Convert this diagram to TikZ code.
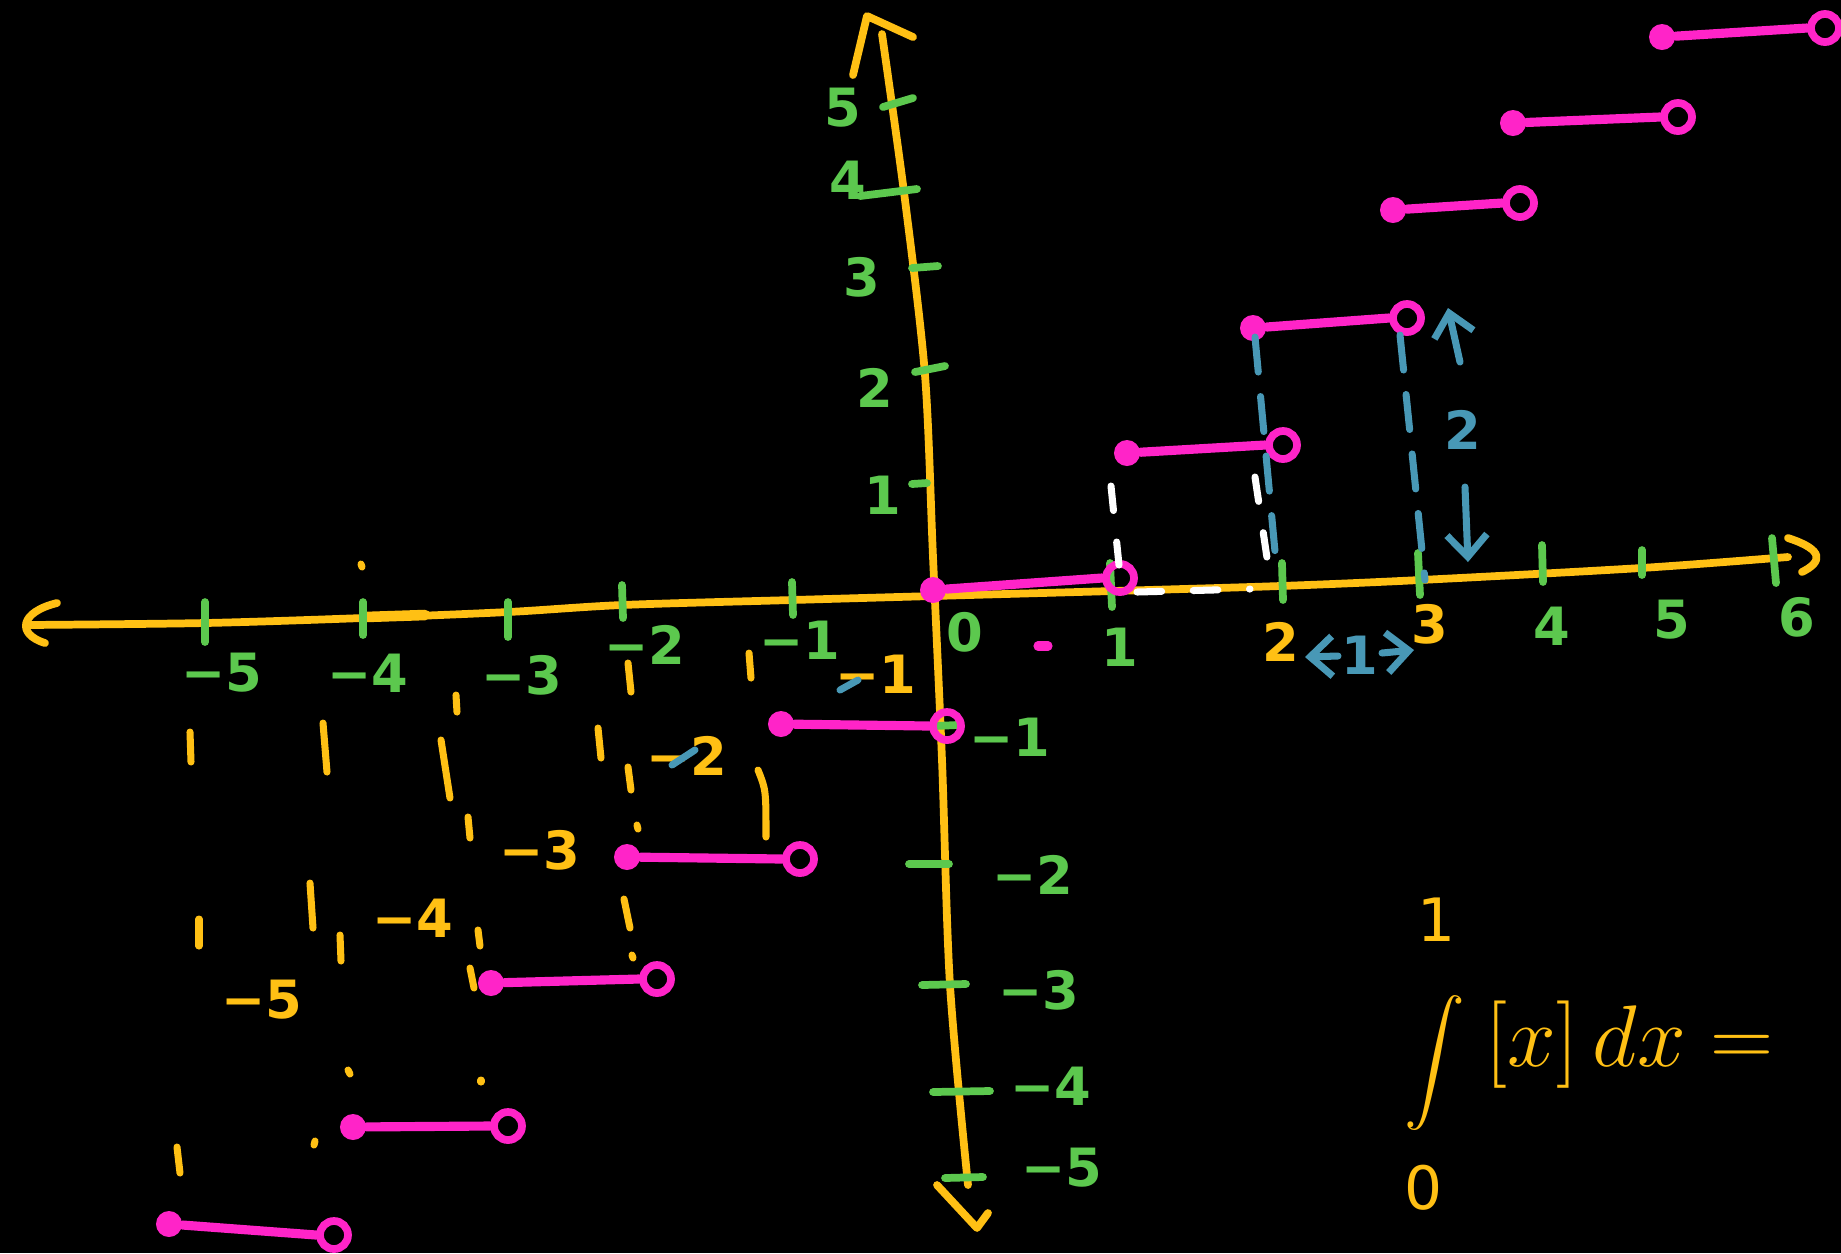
\documentclass[tikz,border=0pt]{standalone}
\usepackage{amsmath}
\usepackage{fontspec}
\usepackage{tikz}
\newfontfamily\handfont{DejaVu Sans}
\usetikzlibrary{arrows.meta,positioning}
\definecolor{hwyellow}{RGB}{255,192,20}
\definecolor{hwgreen}{RGB}{92,200,78}
\definecolor{hwpink}{RGB}{255,36,200}
\definecolor{hwblue}{RGB}{72,152,182}
\tikzset{
  hwaxis/.style={draw=hwyellow, line width=2.2pt, line cap=round, line join=round},
  hwtick/.style={draw=hwgreen, line width=2.2pt, line cap=round},
  hwnum/.style={text=hwgreen, font=\handfont\bfseries\fontsize{15}{15}\selectfont, inner sep=0pt},
  hwynum/.style={hwnum, text=hwyellow},
  hwbnum/.style={hwnum, text=hwblue},
  hwmath/.style={text=hwyellow, inner sep=0pt},
  hwstep/.style={draw=hwpink, line width=2.6pt, line cap=round},
  hwshut/.style={circle, fill=hwpink, minimum size=.26cm, inner sep=0pt},
  hwopen/.style={circle, draw=hwpink, line width=2.2pt, minimum size=.28cm, inner sep=0pt},
  hwmark/.style={draw=hwyellow, line width=2pt, line cap=round},
  hwwhite/.style={draw=white, line width=2pt, line cap=round, dash pattern=on 7pt off 9pt},
  hwbluedash/.style={draw=hwblue, line width=2pt, line cap=round, dash pattern=on 10pt off 7pt},
  hwarr/.style={draw=hwblue, line width=2pt, line cap=round, -{Straight Barb[length=2.2mm, width=4mm]}}
}

\begin{document}
\begin{tikzpicture}[x=.01cm, y=-.01cm]
  \fill[black] (0,0) rectangle (1841,1253);
  \useasboundingbox (0,0) rectangle (1841,1253);

  % axes
  \draw[hwaxis] plot[smooth] coordinates {(27,625) (205,623) (363,618) (508,612) (622,605) (792,600) (933,596) (1113,591) (1280,586) (1420,580) (1641,568) (1788,557)};
  \draw[hwaxis, line width=3pt] (365,617) -- (425,615);
  \draw[hwaxis] (57,603) .. controls (20,612) and (16,634) .. (45,643);
  \draw[hwaxis] (1788,538) .. controls (1825,550) and (1822,562) .. (1802,572);
  \draw[hwaxis] plot[smooth] coordinates {(882,34) (905,200) (925,375) (933,557) (942,760) (950,985) (968,1185)};
  \draw[hwaxis] (853,75) -- (867,16) -- (913,37);
  \draw[hwaxis] (937,1185) -- (977,1228) -- (988,1213);

  % ticks
  \draw[hwtick] (205,602) -- (205,642);
  \draw[hwtick] (363,602) -- (363,635);
  \draw[hwtick] (508,602) -- (508,637);
  \draw[hwtick] (622,585) -- (623,618);
  \draw[hwtick] (792,582) -- (793,615);
  \draw[hwtick] (1110,563) -- (1112,607);
  \draw[hwtick] (1282,563) -- (1283,600);
  \draw[hwtick] (1418,553) -- (1420,595);
  \draw[hwtick] (1542,545) -- (1543,582);
  \draw[hwtick] (1642,550) -- (1642,575);
  \draw[hwtick] (1772,538) -- (1776,583);
  \draw[hwtick] (883,107) -- (913,98);
  \draw[hwtick] (860,196) -- (917,189);
  \draw[hwtick] (912,268) -- (938,266);
  \draw[hwtick] (915,372) -- (945,366);
  \draw[hwtick] (912,484) -- (927,483);
  \draw[hwtick] (935,726) -- (957,725);
  \draw[hwtick] (909,864) -- (949,864);
  \draw[hwtick] (922,985) -- (966,984);
  \draw[hwtick] (933,1092) -- (990,1091);
  \draw[hwtick] (945,1178) -- (983,1177);

  % axis numbers
  \node[hwnum] (xm5) at (222,673) {−5};
  \node[hwnum] (xm4) at (368,673) {−4};
  \node[hwnum] (xm3) at (522,675) {−3};
  \node[hwnum] (xm2) at (645,645) {−2};
  \node[hwnum] (xm1) at (800,640) {−1};
  \node[hwnum] (x0) at (965,632) {0};
  \node[hwnum] (x1) at (1120,647) {1};
  \node[hwynum] (x2) at (1281,642) {2};
  \node[hwynum] (x3) at (1430,624) {3};
  \node[hwnum] (x4) at (1552,626) {4};
  \node[hwnum] (x5) at (1672,620) {5};
  \node[hwnum] (x6) at (1797,617) {6};
  \node[hwnum] (y5) at (843,108) {5};
  \node[hwnum] (y4) at (848,180) {4};
  \node[hwnum] (y3) at (862,277) {3};
  \node[hwnum] (y2) at (875,388) {2};
  \node[hwnum] (y1) at (883,495) {1};
  \node[hwnum] (ym1) at (1010,737) {−1};
  \node[hwnum] (ym2) at (1033,875) {−2};
  \node[hwnum] (ym3) at (1039,990) {−3};
  \node[hwnum] (ym4) at (1051,1086) {−4};
  \node[hwnum] (ym5) at (1062,1168) {−5};

  % floor steps
  \node[hwshut] (s0) at (933,590) {};
  \node[hwopen] (e0) at (1120,578) {};
  \draw[hwstep] (s0) -- (e0.west);
  \node[hwshut] (s1) at (1127,453) {};
  \node[hwopen] (e1) at (1283,445) {};
  \draw[hwstep] (s1) -- (e1.west);
  \node[hwshut] (s2) at (1253,328) {};
  \node[hwopen] (e2) at (1407,318) {};
  \draw[hwstep] (s2) -- (e2.west);
  \node[hwshut] (s3) at (1393,210) {};
  \node[hwopen] (e3) at (1520,203) {};
  \draw[hwstep] (s3) -- (e3.west);
  \node[hwshut] (s4) at (1513,123) {};
  \node[hwopen] (e4) at (1678,117) {};
  \draw[hwstep] (s4) -- (e4.west);
  \node[hwshut] (s5) at (1662,37) {};
  \node[hwopen] (e5) at (1825,28) {};
  \draw[hwstep] (s5) -- (e5.west);
  \node[hwshut] (sm1) at (781,724) {};
  \node[hwopen] (em1) at (947,726) {};
  \draw[hwstep] (sm1) -- (em1.west);
  \node[hwshut] (sm2) at (627,857) {};
  \node[hwopen] (em2) at (800,859) {};
  \draw[hwstep] (sm2) -- (em2.west);
  \node[hwshut] (sm3) at (491,983) {};
  \node[hwopen] (em3) at (657,979) {};
  \draw[hwstep] (sm3) -- (em3.west);
  \node[hwshut] (sm4) at (353,1127) {};
  \node[hwopen] (em4) at (508,1126) {};
  \draw[hwstep] (sm4) -- (em4.west);
  \node[hwshut] (sm5) at (169,1224) {};
  \node[hwopen] (em5) at (334,1235) {};
  \draw[hwstep] (sm5) -- (em5.west);
  \draw[hwstep] (1038,646) -- (1048,646);

  % guides to the first steps
  \draw[hwwhite] (1111,486) -- (1119,565);
  \draw[hwwhite] (1137,592) -- (1250,589);
  \draw[hwwhite] (1255,477) -- (1270,578);
  \draw[hwbluedash] (1255,337) -- (1277,573);
  \draw[hwbluedash] (1400,335) -- (1425,580);

  % width and height of one step
  \node[hwbnum] (rise) at (1463,430) {2};
  \coordinate (risetail) at (1460,362);
  \coordinate (risehead) at (1448,308);
  \coordinate (falltail) at (1465,487);
  \coordinate (fallhead) at (1468,562);
  \draw[hwarr] (risetail) -- (risehead);
  \draw[hwarr] (falltail) -- (fallhead);
  \node[hwbnum] (run) at (1360,655) {1};
  \coordinate (runleft) at (1305,657);
  \coordinate (runright) at (1414,650);
  \draw[hwarr] (1338,656) -- (runleft);
  \draw[hwarr] (1382,653) -- (runright);

  % yellow guide marks below the x axis
  \node[hwynum] (ym1y) at (876,674) {−1};
  \node[hwynum] (ym2y) at (687,756) {−2};
  \node[hwynum] (ym3y) at (540,850) {−3};
  \node[hwynum] (ym4y) at (413,918) {−4};
  \node[hwynum] (ym5y) at (262,1000) {−5};
  \draw[hwbluedash, solid] (840,690) -- (858,680);
  \draw[hwbluedash, solid] (672,765) -- (695,750);
  \draw[hwmark] (361,564) -- (362,567);
  \draw[hwmark] (749,653) -- (751,678);
  \draw[hwmark] (628,663) -- (631,692);
  \draw[hwmark] (456,695) -- (457,712);
  \draw[hwmark] (190,732) -- (191,762);
  \draw[hwmark] (323,723) -- (327,772);
  \draw[hwmark] (441,740) -- (450,798);
  \draw[hwmark] (598,728) -- (601,758);
  \draw[hwmark] (628,767) -- (631,790);
  \draw[hwmark] (758,770) .. controls (766,790) .. (766,837);
  \draw[hwmark] (468,817) -- (470,838);
  \draw[hwmark] (637,825) -- (638,829);
  \draw[hwmark] (624,899) -- (630,928);
  \draw[hwmark] (632,955) -- (633,958);
  \draw[hwmark] (199,919) -- (199,946);
  \draw[hwmark] (310,883) -- (313,928);
  \draw[hwmark] (340,935) -- (341,961);
  \draw[hwmark] (478,930) -- (480,946);
  \draw[hwmark] (470,968) -- (474,988);
  \draw[hwmark] (348,1070) -- (350,1074);
  \draw[hwmark] (481,1080) -- (481,1082);
  \draw[hwmark] (315,1141) -- (314,1145);
  \draw[hwmark] (177,1147) -- (180,1173);

  % the question
  \node[hwmath, font=\fontsize{17}{18}\selectfont, text height=.5cm, text depth=.5cm] (intsign) at (1435,1078) {\smash{$\displaystyle\int$}};
  \node[hwynum, font=\handfont\fontsize{17}{17}\selectfont] (intupper) at (1437,920) {1};
  \node[hwynum, font=\handfont\fontsize{17}{17}\selectfont] (intlower) at (1424,1188) {0};
  \node[hwmath, anchor=west, font=\fontsize{34}{36}\selectfont] (integrand) at (1485,1045) {$[x]\,dx =$};
\end{tikzpicture}
\end{document}
